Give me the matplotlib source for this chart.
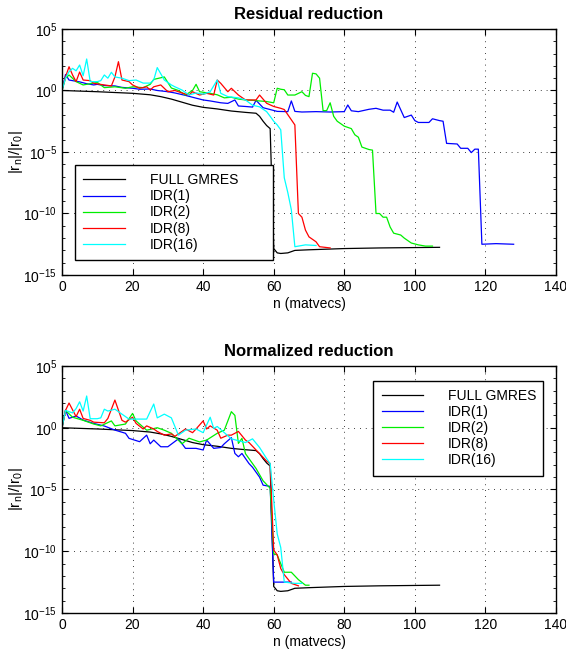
"""IDR(s) vs full GMRES: residual and normalized reduction curves."""
import numpy as np
import matplotlib
matplotlib.use("Agg")
import matplotlib.pyplot as plt
from matplotlib.ticker import FixedLocator, NullFormatter

plt.rcParams["font.family"] = ["Liberation Sans", "DejaVu Sans"]
plt.rcParams["mathtext.default"] = "regular"

# ---------------------------------------------------------------------------
# Data (n = matvecs, values = log10 |r_n|/|r_0|)
# ---------------------------------------------------------------------------
gmres_n = [0, 10, 20, 25, 28, 31, 34, 37, 40, 44, 48, 52, 55, 56, 57, 58, 59,
           60, 61, 62, 64, 66, 70, 80, 90, 100, 107]
gmres_v = [0, -0.1, -0.23, -0.35, -0.5, -0.7, -0.95, -1.2, -1.37, -1.5, -1.67,
           -1.78, -1.85, -2.1, -2.5, -2.85, -3.1, -12.85, -13.2, -13.25, -13.2,
           -13.0, -12.95, -12.85, -12.8, -12.77, -12.75]

# top panel: residual reduction
idr1_n = [0, 1, 2, 3, 5, 7, 9, 10, 12, 15, 17, 20, 22, 25, 27, 30, 32, 35, 37,
          40, 42, 45, 47, 49, 50, 52, 54, 55, 57, 59, 61, 64, 65, 66, 68, 72,
          76, 80, 81, 82, 84, 87, 89, 91, 93, 94, 95, 97, 98, 99, 100, 101,
          104, 105, 107, 108, 109, 112, 113, 115, 116, 117, 118, 119, 123, 128]
idr1_v = [0, 1.3, 0.85, 0.8, 0.7, 0.55, 0.45, 0.5, 0.4, 0.37, 0.25, 0.18, 0.1,
          0.12, 0.0, -0.1, -0.2, -0.4, -0.55, -0.77, -0.85, -1.0, -1.05, -0.77,
          -1.26, -1.3, -1.35, -0.8, -1.4, -1.55, -1.7, -1.72, -0.85, -1.7,
          -1.75, -1.72, -1.75, -1.72, -1.18, -1.65, -1.72, -1.53, -1.45, -1.6,
          -1.6, -1.77, -0.94, -2.2, -2.1, -2.0, -2.45, -2.6, -2.6, -2.3, -2.45,
          -2.5, -4.3, -4.35, -4.7, -4.7, -5.05, -4.77, -4.77, -12.5, -12.45,
          -12.5]

idr2_n = [0, 1, 2, 4, 6, 8, 10, 12, 15, 18, 20, 23, 25, 26, 29, 31, 33, 35,
          37, 38, 39, 42, 44, 46, 48, 50, 52, 54, 56, 58, 60, 61, 62, 63, 64,
          66, 68, 69, 70, 71, 72, 73, 74, 75, 76, 77, 78, 80, 82, 83, 84, 85,
          87, 88, 89, 90, 91, 92, 93, 94, 96, 97, 99, 101, 103, 105]
idr2_v = [0, 1.0, 1.26, 0.72, 0.45, 0.55, 0.66, 0.23, 0.3, 0.18, 0.3, 0.23,
          0.5, 0.9, 1.1, 0.2, 0.0, -0.37, 0.0, 0.5, -0.1, -0.23, -0.35, -0.6,
          -0.55, -0.7, -0.77, -0.8, -0.85, -0.9, -1.0, 0.18, 0.1, 0.06, -0.37,
          -0.37, -0.1, -0.4, -0.5, 1.4, 1.35, 1.0, -1.64, -1.64, -1.0, -2.1,
          -2.5, -2.9, -3.1, -3.6, -3.8, -4.6, -4.8, -4.85, -10.0, -10.0, -10.3,
          -10.3, -11.1, -11.6, -11.75, -12.0, -12.4, -12.55, -12.65, -12.65]

idr8_n = [0, 1, 2, 3, 4, 5, 6, 8, 9, 12, 14, 15, 16, 17, 19, 20, 22, 24, 25,
          26, 28, 30, 32, 34, 36, 37, 39, 41, 43, 44, 45, 47, 48, 50, 52, 55,
          56, 58, 60, 62, 63, 66, 67, 68, 69, 70, 72, 73, 76]
idr8_v = [0, 1.1, 1.93, 1.26, 0.72, 1.5, 0.85, 0.8, 0.58, 0.45, 0.37, 1.1,
          2.34, 0.85, 0.72, 0.45, 0.18, 0.3, 0.04, 0.3, 0.45, -0.1, 0.0, -0.2,
          -0.37, -0.1, -0.37, -0.23, -0.37, 0.85, 0.58, -0.1, 0.18, -0.37,
          -0.77, -0.77, -0.37, -1.04, -1.3, -1.45, -1.55, -2.8, -10.0, -10.3,
          -11.35, -11.9, -12.3, -12.7, -12.8]

idr16_n = [0, 1, 2, 3, 4, 5, 6, 7, 8, 10, 11, 12, 13, 14, 15, 17, 19, 21, 23,
           25, 26, 27, 29, 31, 32, 34, 36, 38, 40, 42, 44, 45, 47, 50, 52, 54,
           56, 58, 59, 60, 61, 62, 63, 64, 65, 66, 67, 69, 72]
idr16_v = [0, 1.0, 1.53, 1.8, 1.6, 2.07, 1.2, 2.56, 0.72, 0.72, 0.8, 1.26,
           1.0, 1.48, 1.1, 1.0, 0.8, 0.85, 0.6, 0.6, 0.85, 1.86, 0.85, 0.45,
           0.3, 0.04, -0.37, -0.2, -0.3, -0.1, 0.85, -0.23, -0.5, -0.6, -0.77,
           -1.2, -1.33, -1.72, -2.1, -2.5, -2.8, -3.2, -7.1, -8.3, -9.7, -12.7,
           -12.65, -12.55, -12.6]

# bottom panel: normalized reduction
nidr1_n = [0, 1, 2, 4, 6, 9, 12, 15, 18, 19, 22, 24, 25, 26, 28, 30, 33, 35,
           38, 40, 41, 43, 45, 46, 48, 49, 50, 51, 53, 54, 56, 57, 59, 60, 65]
nidr1_v = [0, 1.43, 0.76, 0.95, 0.62, 0.35, 0.14, -0.19, -0.45, -0.86, -1.13,
           -0.6, -1.3, -1.0, -1.54, -1.54, -0.9, -1.67, -1.67, -1.8, -1.0,
           -1.67, -1.6, -1.3, -0.8, -2.08, -2.35, -2.08, -2.9, -3.2, -4.0,
           -4.65, -4.75, -12.5, -12.5]

nidr2_n = [0, 1, 3, 6, 9, 11, 14, 15, 18, 20, 21, 24, 27, 29, 31, 34, 36, 39,
           41, 44, 46, 48, 49, 50, 51, 52, 55, 57, 59, 60, 61, 62, 63, 65, 67,
           69, 70]
nidr2_v = [0, 1.4, 0.85, 0.6, 0.3, 0.15, 0.55, 0.15, 0.3, 1.16, 0.55, -0.2,
           0.0, -0.2, -0.45, -1.3, -0.85, -1.15, -1.0, -0.45, -0.2, 1.3, 1.0,
           -1.27, -0.86, -2.1, -3.3, -4.3, -4.9, -10.2, -10.3, -11.0, -11.7,
           -11.7, -12.3, -12.75, -12.75]

nidr8_n = [0, 1, 2, 4, 5, 6, 8, 9, 12, 13, 15, 17, 18, 20, 21, 23, 24, 26,
           27, 29, 31, 32, 35, 37, 38, 40, 41, 42, 44, 45, 47, 48, 50, 52, 53,
           56, 58, 59, 60, 61, 62, 63, 65, 67]
nidr8_v = [0, 1.4, 2.0, 0.9, 1.5, 0.75, 0.6, 0.45, 0.4, 0.75, 2.24, 0.6, 0.45,
           0.85, 0.35, -0.1, 0.15, -0.1, -0.3, -0.6, -0.5, -0.7, -0.1, -0.4,
           -0.1, 0.55, -0.1, 0.15, -0.2, -0.85, -0.6, -0.6, -0.3, -1.0, -1.2,
           -2.1, -2.7, -2.9, -9.9, -10.3, -11.4, -11.9, -12.6, -12.8]

nidr16_n = [0, 1, 3, 4, 5, 6, 7, 8, 10, 11, 12, 13, 15, 17, 19, 22, 24, 26,
            27, 29, 31, 32, 33, 35, 38, 40, 42, 43, 44, 46, 48, 50, 52, 54, 56,
            58, 59, 60, 61, 62, 63, 66, 68]
nidr16_v = [0, 1.4, 1.2, 1.55, 2.1, 1.35, 2.57, 0.73, 0.73, 0.8, 1.5, 1.35,
            1.5, 1.1, 0.7, 0.7, 0.7, 1.92, 0.8, 1.1, 0.8, 0.1, -0.6, -0.2, -0.1,
            -0.4, 0.85, -0.05, 0.1, -0.4, -0.9, -1.05, -1.2, -0.9, -1.6, -2.5,
            -2.9, -5.85, -8.6, -9.7, -12.5, -12.6, -12.6]

LABELS = ["FULL GMRES", "IDR(1)", "IDR(2)", "IDR(8)", "IDR(16)"]
COLORS = ["black", "#0000ff", "#00ee00", "#ff0000", "#00ffff"]

panels = [
    ("Residual reduction",
     [(gmres_n, gmres_v), (idr1_n, idr1_v), (idr2_n, idr2_v),
      (idr8_n, idr8_v), (idr16_n, idr16_v)]),
    ("Normalized reduction",
     [(gmres_n, gmres_v), (nidr1_n, nidr1_v), (nidr2_n, nidr2_v),
      (nidr8_n, nidr8_v), (nidr16_n, nidr16_v)]),
]

fig = plt.figure(figsize=(5.66, 6.54), dpi=100)
ax_top = fig.add_axes([0.1095, 0.5795, 0.8728, 0.3762])
ax_bot = fig.add_axes([0.1095, 0.0627, 0.8728, 0.3777])

major = [1e-15, 1e-10, 1e-5, 1e0, 1e5]
minor = [10.0 ** k for k in range(-15, 6) if k % 5 != 0]

for ax, (title, series) in zip([ax_top, ax_bot], panels):
    for (n, v), lab, col in zip(series, LABELS, COLORS):
        ax.semilogy(n, 10.0 ** np.asarray(v), color=col, lw=0.9, label=lab)
    ax.set_xlim(0, 140)
    ax.set_ylim(1e-15, 1e5)
    ax.set_xticks(np.arange(0, 141, 20))
    ax.yaxis.set_major_locator(FixedLocator(major))
    ax.yaxis.set_minor_locator(FixedLocator(minor))
    ax.yaxis.set_minor_formatter(NullFormatter())
    ax.tick_params(which="both", direction="in", top=True, right=True,
                   labelsize=10)
    ax.tick_params(which="major", length=4)
    ax.tick_params(which="minor", length=2)
    ax.grid(True, which="major", linestyle=(0, (1, 6)), color="black",
            linewidth=0.6)
    ax.set_title(title, fontsize=12, fontweight="bold", pad=7)
    ax.set_xlabel("n (matvecs)", fontsize=10, labelpad=2)
    ax.set_ylabel(r"$|r_n|/|r_0|$", fontsize=11, labelpad=-1)
    for s in ax.spines.values():
        s.set_linewidth(1.0)

leg_kw = dict(fontsize=10, handlelength=3.0, handletextpad=1.8,
              labelspacing=0.15, borderpad=0.6, fancybox=False,
              edgecolor="black", framealpha=1.0, mode="expand",
              borderaxespad=0.0)
leg = ax_top.legend(loc="lower left", bbox_to_anchor=(0.026, 0.061, 0.401, 0.386),
                    **leg_kw)
leg.get_frame().set_linewidth(1.0)
leg = ax_bot.legend(loc="upper left", bbox_to_anchor=(0.630, 0.555, 0.344, 0.386),
                    **leg_kw)
leg.get_frame().set_linewidth(1.0)

fig.savefig("out.png", dpi=100)
